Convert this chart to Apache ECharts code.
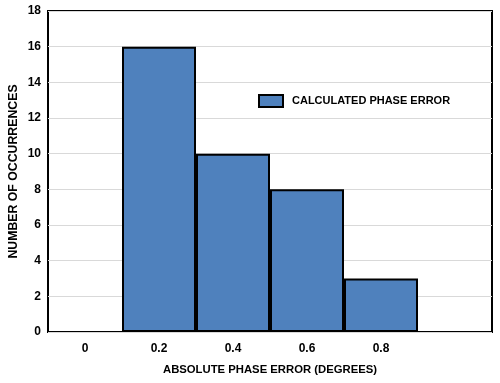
<!DOCTYPE html>
<html><head><meta charset="utf-8">
<script src="https://cdn.jsdelivr.net/npm/echarts@6/dist/echarts.min.js"></script>
<style>html,body{margin:0;padding:0;background:#fff}#c{width:500px;height:383px}</style>
</head><body><div id="c"></div>
<script>
var categories = ['0', '0.2', '0.4', '0.6', '0.8', ''];
var occurrences = ['-', 16, 10, 8, 3, '-'];
var yTicks = [0, 2, 4, 6, 8, 10, 12, 14, 16, 18];
var seriesName = 'CALCULATED PHASE ERROR';
var xTitle = 'ABSOLUTE PHASE ERROR (DEGREES)';
var yTitle = 'NUMBER OF OCCURRENCES';

var font = 'Liberation Sans, Arial, sans-serif';
var chart = echarts.init(document.getElementById('c'));
chart.setOption({
  animation: false,
  grid: {left: 48, right: 8, top: 11, bottom: 51, show: true, borderColor: '#000', borderWidth: 2, backgroundColor: '#fff', outerBoundsMode: 'none', containLabel: false},
  legend: {
    data: [{name: seriesName, icon: 'rect'}], left: 258, top: 94, padding: 0, itemWidth: 24, itemHeight: 12, itemGap: 8,
    itemStyle: {borderWidth: 2, borderColor: '#000'},
    textStyle: {fontFamily: font, fontSize: 11, color: '#000', fontWeight: 'bold', padding: [0, 0, 0, 4]}
  },
  xAxis: {
    type: 'category', data: categories,
    axisLine: {show: false}, axisTick: {show: false},
    axisLabel: {margin: 11, fontFamily: font, fontSize: 12, fontWeight: 'bold', color: '#000'},
    name: xTitle, nameLocation: 'middle', nameGap: 32, nameMoveOverlap: false,
    nameTextStyle: {fontFamily: font, fontSize: 11.3, fontWeight: 'bold', color: '#000'}
  },
  yAxis: {
    type: 'value', min: yTicks[0], max: yTicks[yTicks.length - 1], interval: 2,
    axisLine: {show: false}, axisTick: {show: false},
    splitLine: {show: true, lineStyle: {color: '#d9d9d9', width: 1}},
    axisLabel: {margin: 7, fontFamily: font, fontSize: 12, fontWeight: 'bold', color: '#000'},
    name: yTitle, nameLocation: 'middle', nameGap: 28, nameMoveOverlap: false,
    nameTextStyle: {fontFamily: font, fontSize: 12.3, fontWeight: 'bold', color: '#000'}
  },
  series: [{
    name: seriesName, type: 'bar', data: occurrences,
    barCategoryGap: '0%',
    itemStyle: {color: '#4f81bd', borderColor: '#000', borderWidth: 2}
  }]
});
</script></body></html>
